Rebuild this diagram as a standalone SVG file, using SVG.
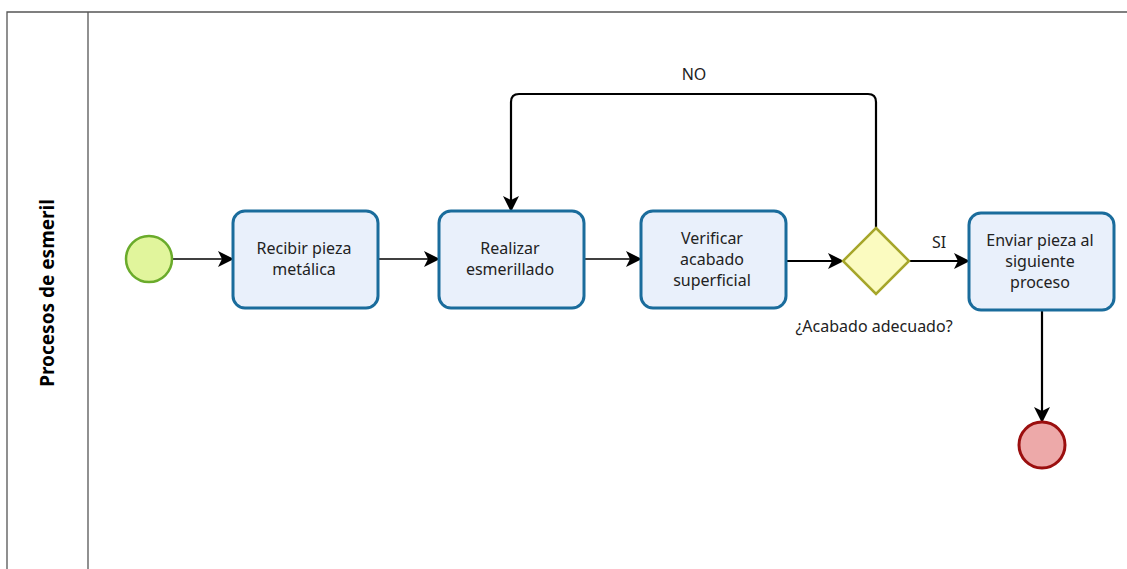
<svg xmlns="http://www.w3.org/2000/svg" width="1127" height="569" viewBox="0 0 1127 569">
  <style>
    .lane { fill: none; stroke: #555; stroke-width: 1.3; }
    .task rect { fill: #e9f0fb; stroke: #1a6c9c; stroke-width: 3; }
    .label { font-family: "Noto Sans", "Open Sans", sans-serif; font-size: 16px; fill: #222; text-anchor: middle; }
    .flow { fill: none; stroke: #000; stroke-width: 1.3; }
    .flow.bold { stroke-width: 2.2; }
  </style>
  <defs>
    <marker id="arrow" viewBox="0 0 16 16" refX="15" refY="8" markerWidth="16" markerHeight="16" markerUnits="userSpaceOnUse" orient="auto">
      <path d="M0,0 L16,8 L0,16 L4,8 Z" fill="#000"/>
    </marker>
  </defs>
  <rect width="1127" height="569" fill="#fff"/>

  <!-- pool and lane header -->
  <g id="pool">
    <path class="lane" d="M1140,12 H7 V580"/>
    <line class="lane" x1="88" y1="12" x2="88" y2="580"/>
    <text x="47" y="293" transform="rotate(-90 47 293)" font-family="'Noto Sans', 'Open Sans', sans-serif" font-size="19" font-weight="bold" fill="#000" text-anchor="middle" dominant-baseline="central">Procesos de esmeril</text>
  </g>

  <!-- sequence flows -->
  <g id="connectors">
    <line class="flow" x1="172" y1="259" x2="233" y2="259" marker-end="url(#arrow)"/>
    <line class="flow" x1="378" y1="259" x2="439" y2="259" marker-end="url(#arrow)"/>
    <line class="flow" x1="584" y1="259" x2="641" y2="259" marker-end="url(#arrow)"/>
    <line class="flow bold" x1="786" y1="261" x2="843" y2="261" marker-end="url(#arrow)"/>
    <line class="flow bold" x1="909" y1="261" x2="969" y2="261" marker-end="url(#arrow)"/>
    <path class="flow bold" d="M876,228 V102 Q876,94 868,94 H519 Q511,94 511,102 V211" marker-end="url(#arrow)"/>
    <line class="flow bold" x1="1042" y1="310" x2="1042" y2="422" marker-end="url(#arrow)"/>
    <text class="label" x="694" y="80">NO</text>
    <text class="label" x="939" y="248">SI</text>
  </g>

  <g id="start">
    <circle cx="149" cy="259" r="23" fill="#e1f59c" stroke="#6aab2b" stroke-width="2.5"/>
  </g>

  <g id="task-recibir" class="task">
    <rect x="233" y="211" width="145" height="97" rx="12"/>
    <text class="label" x="304" y="254">Recibir pieza</text>
    <text class="label" x="304" y="275">metálica</text>
  </g>

  <g id="task-esmerillado" class="task">
    <rect x="439" y="211" width="145" height="97" rx="12"/>
    <text class="label" x="510" y="254">Realizar</text>
    <text class="label" x="510" y="275">esmerillado</text>
  </g>

  <g id="task-verificar" class="task">
    <rect x="641" y="211" width="145" height="97" rx="12"/>
    <text class="label" x="712" y="244">Verificar</text>
    <text class="label" x="712" y="265">acabado</text>
    <text class="label" x="712" y="286">superficial</text>
  </g>

  <g id="gateway">
    <polygon points="876,228 909,261 876,294 843,261" fill="#fbfbc0" stroke="#a6a62a" stroke-width="2.5"/>
    <text class="label" x="874" y="332">¿Acabado adecuado?</text>
  </g>

  <g id="task-enviar" class="task">
    <rect x="969" y="213" width="145" height="97" rx="12"/>
    <text class="label" x="1040" y="246">Enviar pieza al</text>
    <text class="label" x="1040" y="267">siguiente</text>
    <text class="label" x="1040" y="288">proceso</text>
  </g>

  <g id="end">
    <circle cx="1042" cy="445" r="23" fill="#eda9a9" stroke="#9b0f0f" stroke-width="3"/>
  </g>
</svg>
